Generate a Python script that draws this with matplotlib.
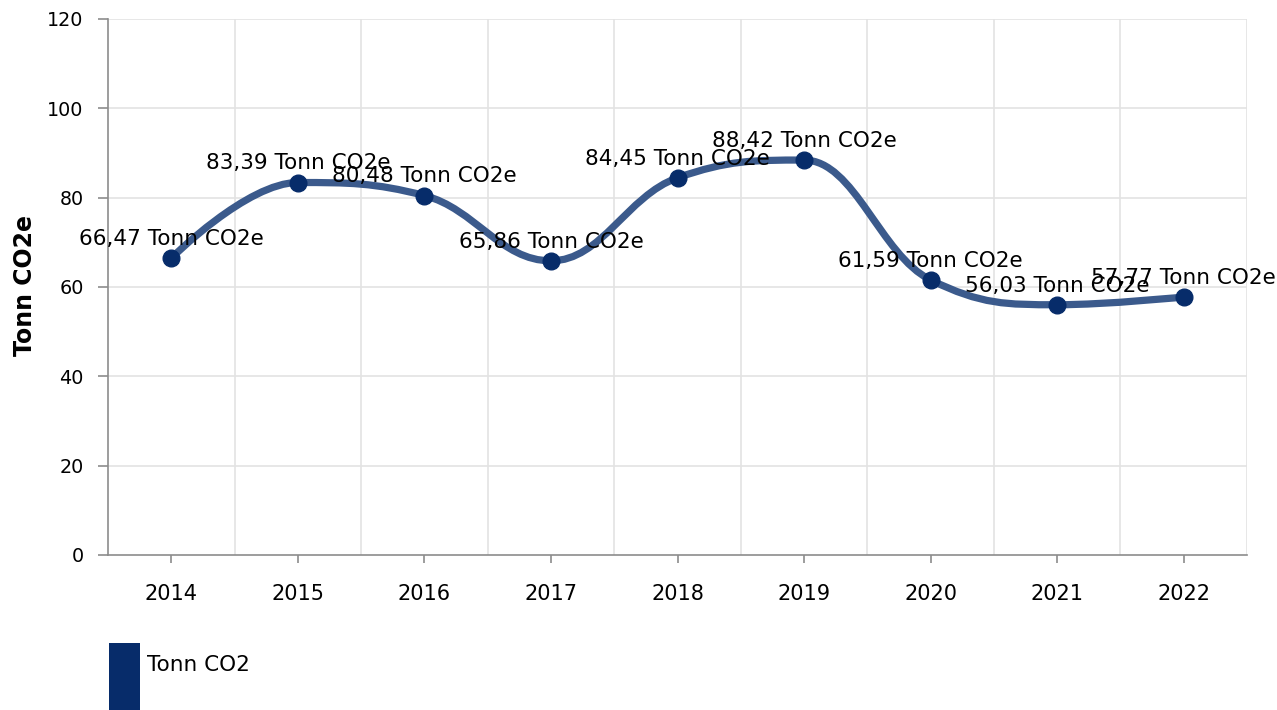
import matplotlib
matplotlib.use("Agg")
import matplotlib.pyplot as plt
from matplotlib.path import Path
from matplotlib.patches import PathPatch, Rectangle

years = ["2014", "2015", "2016", "2017", "2018", "2019", "2020", "2021", "2022"]
values = [66.47, 83.39, 80.48, 65.86, 84.45, 88.42, 61.59, 56.03, 57.77]
unit = "Tonn CO2e"
series_name = "Tonn CO2"
y_ticks = [0, 20, 40, 60, 80, 100, 120]

LINE_COLOR = "#3b5a8c"
MARKER_COLOR = "#072c6a"
GRID = "#e3e3e3"
AXIS = "#8c8c8c"

plt.rcParams['font.family'] = ['DejaVu Sans']

W, H = 1277, 710
fig = plt.figure(figsize=(W / 100, H / 100), dpi=100)
ax = fig.add_axes([108 / W, 1 - 555 / H, (1247 - 108) / W, (555 - 19) / H])

xs = list(range(len(values)))


def spline_path(xs, ys, smoothing=1.5):
    denom = smoothing + 1
    n = len(xs)
    lc = [None] * n
    rc = [None] * n
    for i in range(1, n - 1):
        px, py = xs[i], ys[i]
        lx, ly = xs[i - 1], ys[i - 1]
        nx, ny = xs[i + 1], ys[i + 1]
        lcx = (smoothing * px + lx) / denom
        lcy = (smoothing * py + ly) / denom
        rcx = (smoothing * px + nx) / denom
        rcy = (smoothing * py + ny) / denom
        corr = 0
        if rcx != lcx:
            corr = (rcy - lcy) * (rcx - px) / (rcx - lcx) + py - rcy
        lcy += corr
        rcy += corr
        if lcy > ly and lcy > py:
            lcy = max(ly, py)
            rcy = 2 * py - lcy
        elif lcy < ly and lcy < py:
            lcy = min(ly, py)
            rcy = 2 * py - lcy
        if rcy > ny and rcy > py:
            rcy = max(ny, py)
            lcy = 2 * py - rcy
        elif rcy < ny and rcy < py:
            rcy = min(ny, py)
            lcy = 2 * py - rcy
        lc[i] = (lcx, lcy)
        rc[i] = (rcx, rcy)
    verts = [(xs[0], ys[0])]
    codes = [Path.MOVETO]
    for i in range(1, n):
        c1 = rc[i - 1] if rc[i - 1] is not None else (xs[i - 1], ys[i - 1])
        c2 = lc[i] if lc[i] is not None else (xs[i], ys[i])
        verts += [c1, c2, (xs[i], ys[i])]
        codes += [Path.CURVE4] * 3
    return Path(verts, codes)


ax.set_xlim(-0.5, len(values) - 0.5)
ax.set_ylim(0, 120)

# grid
for y in y_ticks[1:]:
    ax.axhline(y, color=GRID, lw=1.2, zorder=0)
for b in range(1, len(values) + 1):
    ax.axvline(b - 0.5, color=GRID, lw=1.2, zorder=0)

ax.add_patch(PathPatch(spline_path(xs, values), facecolor="none",
                       edgecolor=LINE_COLOR, lw=5.2, capstyle="round",
                       joinstyle="round", zorder=3))
ax.plot(xs, values, "o", color=MARKER_COLOR, ms=12, zorder=4)

for x, v in zip(xs, values):
    txt = f"{v:.2f}".replace(".", ",") + " " + unit
    ax.annotate(txt, (x, v), xytext=(0, 9.5), textcoords="offset points",
                ha="center", va="baseline", fontsize=15.5, color="black",
                zorder=5)

for s in ["top", "right"]:
    ax.spines[s].set_visible(False)
ax.spines["left"].set_color(AXIS)
ax.spines["bottom"].set_color(AXIS)
ax.spines["left"].set_linewidth(1.2)
ax.spines["bottom"].set_linewidth(1.2)

ax.set_yticks(y_ticks)
ax.set_yticklabels([str(t) for t in y_ticks], fontsize=13.8)
ax.set_xticks(xs)
ax.set_xticklabels(years, fontsize=15)
ax.tick_params(axis="y", length=7.5, width=1.2, color=AXIS, pad=10)
ax.tick_params(axis="x", length=6, width=1.2, color=AXIS, pad=15)

fig.text(25 / W, 1 - 285 / H, unit, rotation=90, ha="center", va="center",
         fontsize=17, fontweight="bold")

# legend
fig.add_artist(Rectangle((109 / W, 0), 31 / W, (710 - 643) / H,
                         transform=fig.transFigure, color=MARKER_COLOR,
                         lw=0))
fig.text(147 / W, 1 - 665 / H, series_name, ha="left", va="center",
         fontsize=15.5)

fig.savefig("out.png", dpi=100)
